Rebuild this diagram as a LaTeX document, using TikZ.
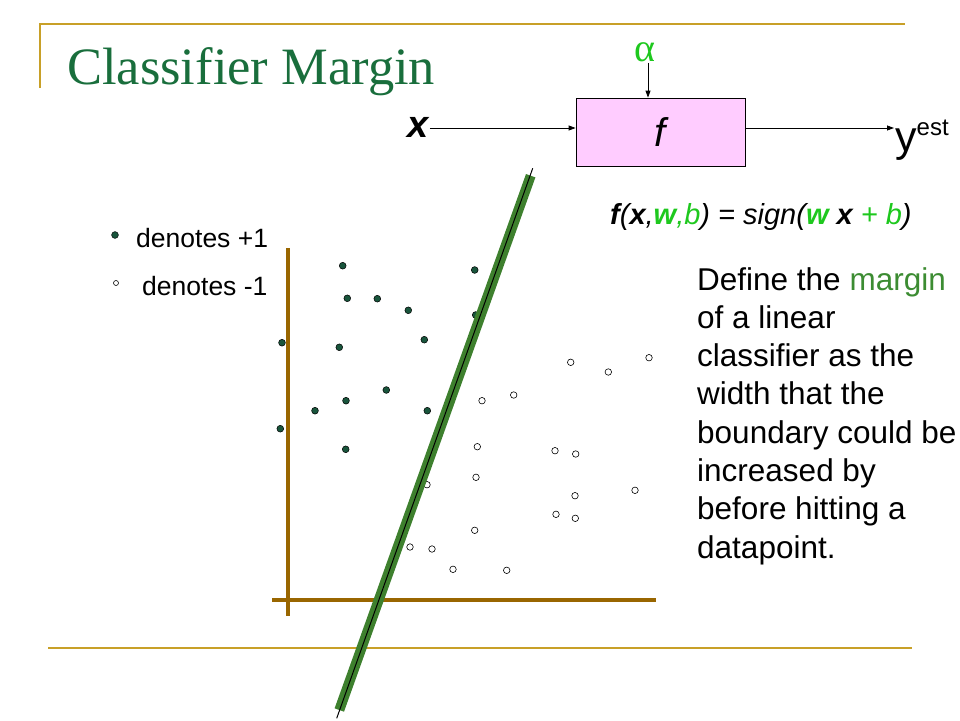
\documentclass[tikz,border=0pt]{standalone}
\usepackage{fontspec}
\setmainfont{Liberation Sans}
\newfontfamily\titlefont{Liberation Serif}
\usepackage{amsmath}
\usetikzlibrary{arrows.meta}
\definecolor{slidegold}{RGB}{200,160,40}
\definecolor{axisbrown}{RGB}{153,102,0}
\definecolor{titlegreen}{RGB}{25,110,60}
\definecolor{bandgreen}{RGB}{62,128,46}
\definecolor{dotgreen}{RGB}{25,85,60}
\definecolor{brightgreen}{RGB}{30,200,30}
\definecolor{boxpink}{RGB}{255,204,255}
\definecolor{wordgreen}{RGB}{60,140,50}
\tikzset{
  arr/.style={-{Triangle[length=7pt,width=5pt]}, line width=0.8pt},
  fbox/.style={draw, line width=0.8pt, fill=boxpink, minimum width=169pt, minimum height=68pt, inner sep=0pt},
  pospt/.style={circle, draw=black, line width=0.5pt, fill=dotgreen, inner sep=0pt, minimum size=6.8pt},
  negpt/.style={circle, draw=black, line width=0.6pt, fill=white, inner sep=0pt, minimum size=6.5pt},
  lbl/.style={inner sep=1pt}
}

\begin{document}
\begin{tikzpicture}[x=1pt, y=-1pt]
	\useasboundingbox (0,0) rectangle (960,720);
	% slide frame
	\draw [slidegold, line width=2pt] (40,88) -- (40,24) -- (905,24);
	\draw [slidegold, line width=2pt] (48,648) -- (912,648);
	\node[anchor=base west, lbl, font=\titlefont\fontsize{52.5}{52.5}\selectfont, text=titlegreen] (title) at (66,84) {Classifier Margin};

	% classifier block
	\node[fbox] (f) at (660.5,132) {\fontsize{40}{40}\selectfont\itshape f};
	\node[lbl, font=\fontsize{38}{38}\selectfont\bfseries\itshape] (xin) at (418,127) {x};
	\node[lbl, anchor=base west] (yest) at (894,151) {\fontsize{43}{43}\selectfont y\raisebox{16pt}{\fontsize{24}{24}\selectfont est}};
	\node[lbl, text=brightgreen, font=\titlefont\fontsize{40}{40}\selectfont] (alpha) at (645,52) {α};
	\coordinate (fin) at (f.west |- 0,128);
	\coordinate (fout) at (f.east |- 0,128);
	\coordinate (yin) at (yest.west |- 0,128);
	\draw [arr] (xin.east |- fin) -- (fin);
	\draw [arr] (fout) -- (yin);
	\draw [arr] (alpha.south -| 648,0) -- (f.north -| 648,0);
	\node[lbl, anchor=base west, font=\fontsize{29}{29}\selectfont\itshape] (rule) at (609,224)
	{\textbf{f}(\textbf{x},\textcolor{brightgreen}{\textbf{w},b}) = sign(\textcolor{brightgreen}{\textbf{w}} \textbf{x} \textcolor{brightgreen}{+ b})};

	% legend
	\node[pospt] (lpos) at (115,235) {};
	\node[negpt, minimum size=5pt] (lneg) at (116,283) {};
	\node[lbl, anchor=base west, font=\fontsize{26.5}{26.5}\selectfont] (tpos) at (135,247) {denotes +1};
	\node[lbl, anchor=base west, font=\fontsize{26.5}{26.5}\selectfont] (tneg) at (141,295) {denotes -1};

	% axes
	\draw [axisbrown, line width=4pt] (288,248) -- (288,616);
	\draw [axisbrown, line width=4pt] (272,600) -- (656,600);

	% data points
	\foreach \x/\y [count=\i] in {342.7/265.7, 474.7/270, 347.3/298.3, 377.3/298.7, 408.3/310.3,
		475.7/315, 282/342.7, 339.3/347.3, 424.3/339.7, 386.3/390, 346/400.7, 315/410.7,
		427.3/410.7, 280.3/428.7, 345.7/449.3}
	\node[pospt] (p\i) at (\x,\y) {};
	\foreach \x/\y [count=\i] in {570.7/362.3, 608.3/372, 649/357.7, 482/400.7, 513.7/395,
		477.3/446.7, 555/450.7, 575.7/454, 476/477.3, 427/484.7, 635/490.3, 575/495.7,
		556/514.3, 575.3/518.3, 474.7/530.3, 410/547, 432/549, 453/569.3, 506.7/570.3}
	\node[negpt] (n\i) at (\x,\y) {};

	% decision boundary
	\draw [bandgreen, line width=10pt] (530.7,175.7) -- (339.3,710);
	\draw [black, line width=1pt] (532.7,168.3) -- (336.7,718.3);

	% definition text
	\node[anchor=north west, align=left, inner sep=0pt, font=\fontsize{31.5}{38.3}\selectfont] (def) at (697,267)
	{Define the \textcolor{wordgreen}{margin}\\ of a linear\\ classifier as the\\ width that the\\
	 boundary could be\\ increased by\\ before hitting a\\ datapoint.};
\end{tikzpicture}
\end{document}
